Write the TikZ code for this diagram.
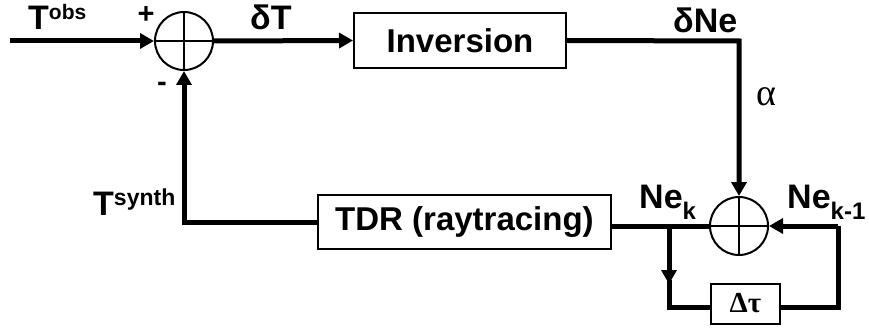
\documentclass[tikz,border=0pt]{standalone}
\usepackage{fontspec}
\setmainfont{Liberation Sans}
\newfontfamily\seriffont{Liberation Serif}
\usetikzlibrary{arrows.meta}
\tikzset{
  sumnode/.style={circle, draw, line width=2pt, minimum size=58pt, inner sep=0pt,
    path picture={\draw[line width=2pt] (path picture bounding box.north) -- (path picture bounding box.south)
      (path picture bounding box.west) -- (path picture bounding box.east);}},
  blockbox/.style={draw, line width=2pt, inner sep=0pt, font=\fontsize{33}{36}\selectfont\bfseries},
  wire/.style={line width=5pt},
  arr/.style={wire, -{Triangle[length=14pt,width=15pt]}},
  lbl/.style={inner sep=0pt, font=\fontsize{34}{38}\selectfont\bfseries},
  sign/.style={inner sep=0pt, font=\fontsize{29}{29}\selectfont\bfseries}
}
\newcommand{\supx}[2]{\raisebox{10pt}{\fontsize{#1}{#1}\selectfont #2}}
\newcommand{\subx}[1]{\raisebox{-11pt}{\fontsize{24}{24}\selectfont #1}}
\begin{document}
\begin{tikzpicture}[x=1pt,y=-1pt]
\useasboundingbox (0,0) rectangle (869,331);
% nodes
\node[sumnode] (s1) at (184,41) {};
\node[sumnode] (s2) at (739,226) {};
\node[blockbox, minimum width=212pt, minimum height=55pt] (inv) at (460,40.5) {Inversion};
\node[blockbox, minimum width=293pt, minimum height=54pt] (tdr) at (464.5,222) {TDR (raytracing)};
\node[blockbox, minimum width=69pt, minimum height=40pt, font=\fontsize{29}{30}\selectfont\seriffont\bfseries, text depth=3pt] (dt) at (745.5,304) {Δτ};
\coordinate (in) at (10,41);
\coordinate (c1) at (739,41);
\coordinate (j) at (669,226);
\coordinate (jd) at (669,307);
\coordinate (rc) at (838,226);
\coordinate (rd) at (838,307);
% labels
\node[lbl, anchor=base west] (tobs) at (28,30) {T\supx{21}{obs}};
\node[sign] (plus) at (146,15) {+};
\node[sign] (minus) at (162,87) {-};
\node[lbl, anchor=base west] (dT) at (250,30) {δT};
\node[lbl, anchor=base west] (dNe) at (673,33) {δNe};
\node[inner sep=0pt, font=\fontsize{38}{38}\selectfont\seriffont] (alpha) at (766,97) {α};
\node[lbl, anchor=base west] (nek) at (639,208) {Ne\subx{k}};
\node[lbl, anchor=base west] (nek1) at (787,208) {Ne\subx{k-1}};
\node[lbl, anchor=base west] (tsyn) at (93,215) {T\supx{23}{synth}};
% connectors
\draw[arr] (in) -- (s1.west);
\draw[arr] (s1.east) -- (inv.west);
\draw[arr] (inv.east) -- (c1) -- (s2.north);
\draw[wire] (s2.west) -- (s2.west -| tdr.east);
\draw[arr] (tdr.west) -- (s1 |- tdr.west) -- (s1.south);
\draw[arr] (rc) -- (s2.east);
\draw[wire] (rc) -- (rd) -- (rd -| dt.east);
\draw[arr] (j) -- (669,284);
\draw[wire] (669,280) -- (jd) -- (jd -| dt.west);
\end{tikzpicture}
\end{document}
